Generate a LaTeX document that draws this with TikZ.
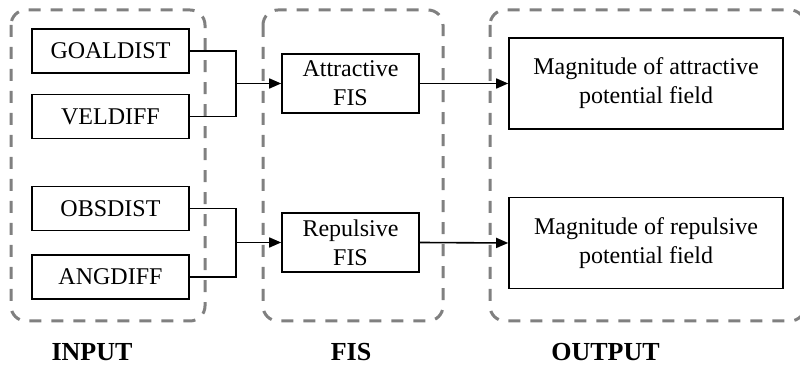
\documentclass[tikz,border=0pt]{standalone}
\usepackage{fontspec}
\setmainfont{Liberation Serif}
\usetikzlibrary{arrows.meta,positioning}
\definecolor{groupgray}{RGB}{128,128,128}

\begin{document}
\begin{tikzpicture}[
  x=0.5pt,y=-0.5pt,
  font=\fontsize{12}{14.5}\selectfont,
  inbox/.style={draw,line width=0.8pt,minimum width=78.5pt,minimum height=22pt,inner sep=0pt},
  fisbox/.style={draw,line width=0.8pt,minimum width=68.5pt,minimum height=29.5pt,inner sep=0pt,align=center},
  outbox/.style={draw,line width=0.8pt,minimum width=137pt,minimum height=45.5pt,inner sep=0pt,align=center},
  group/.style={draw=groupgray,line width=1.5pt,rounded corners=7.5pt,dash pattern=on 6pt off 5pt},
  title/.style={font=\fontsize{13}{15}\selectfont\bfseries},
  link/.style={line width=0.8pt},
  feed/.style={link,-{Triangle[length=6pt,width=5pt]}}
]
\useasboundingbox (0,0) rectangle (800,367);

% dashed groups
\draw[group] (11,10) rectangle (205,321);
\draw[group] (263,10) rectangle (443,321);
\draw[group] (490,10) rectangle (805,321);

% inputs
\node[inbox] (goaldist) at (110.5,51) {GOALDIST};
\node[inbox] (veldiff) at (110.5,116.5) {VELDIFF};
\node[inbox] (obsdist) at (110.5,208.5) {OBSDIST};
\node[inbox] (angdiff) at (110.5,277) {ANGDIFF};

% fuzzy systems
\node[fisbox] (attfis) at (350.5,83.5) {Attractive\\FIS};
\node[fisbox] (repfis) at (350.5,242.5) {Repulsive\\FIS};

% outputs
\node[outbox] (attout) at (646,83.5) {Magnitude of attractive\\potential field};
\node[outbox] (repout) at (646,243) {Magnitude of repulsive\\potential field};

% group titles
\node[title] (intitle) at (92,352.5) {INPUT};
\node[title] (fistitle) at (351,352.5) {FIS};
\node[title] (outtitle) at (605.5,352.5) {OUTPUT};

% joins
\coordinate (attjoin) at (236,83.5);
\coordinate (repjoin) at (236,242.5);

\draw[link] (goaldist.east) -| (attjoin) |- (veldiff.east);
\draw[link] (obsdist.east) -| (repjoin) |- (angdiff.east);
\draw[feed] (attjoin) -- (attfis.west);
\draw[feed] (repjoin) -- (repfis.west);
\draw[feed] (attfis.east) -- (attout.west);
\draw[feed] (repfis.east) -- (repout.west);
\end{tikzpicture}
\end{document}
